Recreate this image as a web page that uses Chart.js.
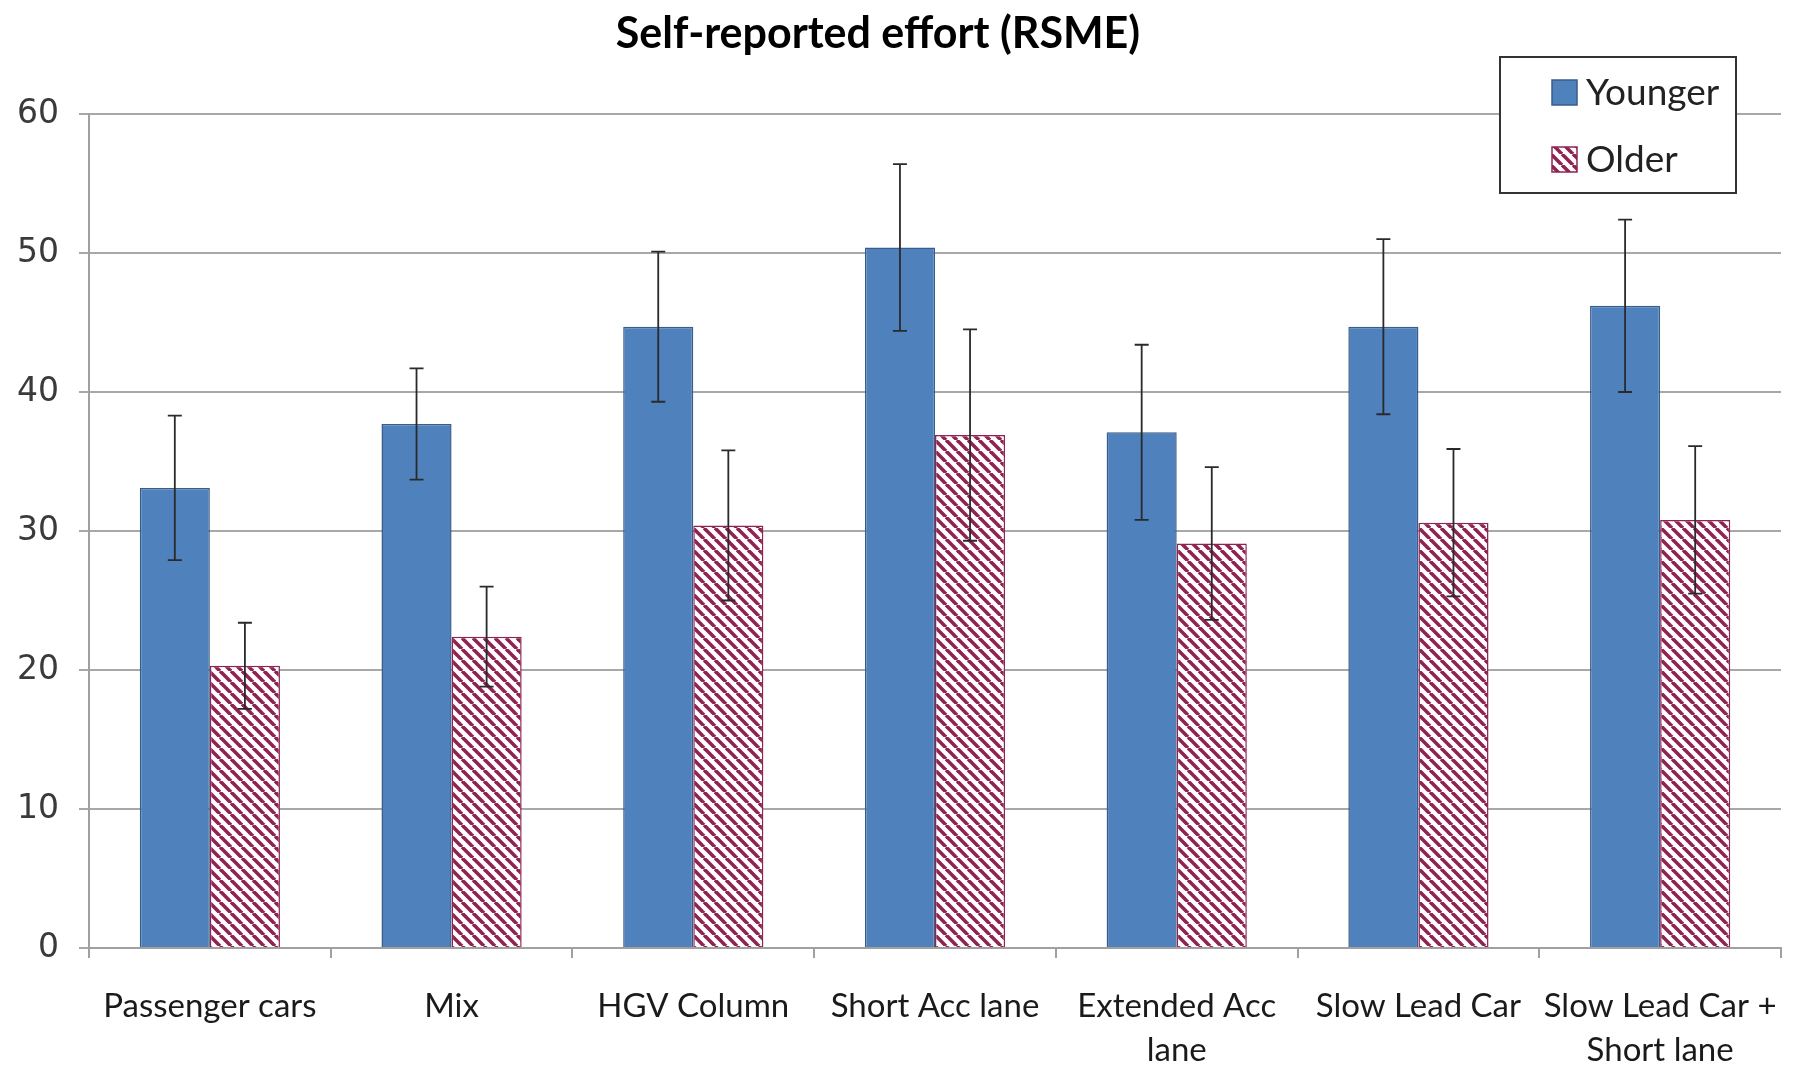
<!DOCTYPE html>
<html>
<head>
<meta charset="utf-8">
<script src="https://cdn.jsdelivr.net/npm/chart.js@4.4.1/dist/chart.umd.min.js"></script>
<style>
  html, body { margin: 0; padding: 0; background: #fff; }
  #wrap { width: 1796px; height: 1071px; }
</style>
</head>
<body>
<div id="wrap"><canvas id="myChart" width="1796" height="1071"></canvas></div>
<script>
// ------------------ DATA ------------------ //
const categories = [
  "Passenger cars", "Mix", "HGV Column", "Short Acc lane",
  ["Extended Acc", "lane"], "Slow Lead Car", ["Slow Lead Car +", "Short lane"]
];
const seriesNames = ["Younger", "Older"];
const youngerValues = [33.1, 37.7, 44.7, 50.4, 37.1, 44.7, 46.2];
const youngerErrors = [5.2, 4.0, 5.4, 6.0, 6.3, 6.3, 6.2];
const olderValues = [20.3, 22.4, 30.4, 36.9, 29.1, 30.6, 30.8];
const olderErrors = [3.1, 3.6, 5.4, 7.6, 5.5, 5.3, 5.3];
const yTicks = [0, 10, 20, 30, 40, 50, 60];
const chartTitle = "Self-reported effort (RSME)";

// ------------------ STYLES ------------------ //
const blue = "#4f81bd";
const blueBorder = "#385d8a";
const maroon = "#8e2452";

// diagonal hatch for the "Older" bars
function makeHatch() {
  const s = 11;
  const c = document.createElement("canvas");
  c.width = s; c.height = s;
  const g = c.getContext("2d");
  g.fillStyle = "#fff";
  g.fillRect(0, 0, s, s);
  g.strokeStyle = maroon;
  g.lineWidth = 3.6;
  [-s, 0, s].forEach(o => {
    g.beginPath();
    g.moveTo(o, 0);
    g.lineTo(o + s, s);
    g.stroke();
  });
  return document.getElementById("myChart").getContext("2d").createPattern(c, "repeat");
}
const hatch = makeHatch();

// error bars on top of each bar
const errorBars = {
  id: "errorBars",
  afterDatasetsDraw(chart) {
    const ctx = chart.ctx;
    const y = chart.scales.y;
    const errs = [youngerErrors, olderErrors];
    ctx.save();
    ctx.strokeStyle = "#2a2a2a";
    ctx.lineWidth = 1.8;
    chart.data.datasets.forEach((ds, di) => {
      chart.getDatasetMeta(di).data.forEach((bar, i) => {
        const v = ds.data[i];
        const top = y.getPixelForValue(v + errs[di][i]);
        const bot = y.getPixelForValue(v - errs[di][i]);
        ctx.beginPath();
        ctx.moveTo(bar.x, top); ctx.lineTo(bar.x, bot);
        ctx.moveTo(bar.x - 7, top); ctx.lineTo(bar.x + 7, top);
        ctx.moveTo(bar.x - 7, bot); ctx.lineTo(bar.x + 7, bot);
        ctx.stroke();
      });
    });
    ctx.restore();
  }
};

// title and boxed legend, placed like the original
const decorations = {
  id: "decorations",
  afterDraw(chart) {
    const ctx = chart.ctx;
    ctx.save();
    ctx.fillStyle = "#000";
    ctx.font = "bold 43px Lato";
    ctx.textAlign = "center";
    ctx.textBaseline = "middle";
    ctx.fillText(chartTitle, 878, 34);

    // legend box
    ctx.fillStyle = "#fff";
    ctx.fillRect(1500, 57, 236, 136);
    ctx.strokeStyle = "#333";
    ctx.lineWidth = 2;
    ctx.strokeRect(1500, 57, 236, 136);

    const rows = [{ y: 92, fill: blue, border: blueBorder }, { y: 159, fill: hatch, border: maroon }];
    rows.forEach((r, i) => {
      ctx.fillStyle = r.fill;
      ctx.fillRect(1552, r.y - 12, 25, 25);
      ctx.strokeStyle = r.border;
      ctx.lineWidth = 1.5;
      ctx.strokeRect(1552, r.y - 12, 25, 25);
      ctx.fillStyle = "#222";
      ctx.font = "37px Lato";
      ctx.textAlign = "left";
      ctx.fillText(seriesNames[i], 1586, r.y + 1);
    });
    ctx.restore();
  }
};

// ------------------ CHART ------------------ //
const ctx = document.getElementById("myChart").getContext("2d");
const chart = new Chart(ctx, {
  type: "bar",
  data: {
    labels: categories,
    datasets: [
      {
        label: seriesNames[0],
        data: youngerValues,
        backgroundColor: blue,
        borderColor: blueBorder,
        borderWidth: 1.5,
        categoryPercentage: 0.58,
        barPercentage: 1.0
      },
      {
        label: seriesNames[1],
        data: olderValues,
        backgroundColor: hatch,
        borderColor: maroon,
        borderWidth: 1.5,
        categoryPercentage: 0.58,
        barPercentage: 1.0
      }
    ]
  },
  options: {
    responsive: false,
    animation: false,
    layout: { padding: { top: 114, right: 15, left: 0, bottom: 0 } },
    plugins: {
      legend: { display: false },
      title: { display: false },
      tooltip: { enabled: false }
    },
    scales: {
      x: {
        grid: { display: true, drawOnChartArea: false, tickLength: 10, color: "#a0a0a0", lineWidth: 2 },
        border: { color: "#a0a0a0", width: 2 },
        ticks: {
          color: "#1a1a1a",
          font: { family: "Lato", size: 33, lineHeight: 1.32 },
          padding: 27,
          maxRotation: 0,
          autoSkip: false
        },
        afterFit(scale) {
          scale.height = 123;
          scale.paddingLeft = 0;
          scale.paddingRight = 0;
        }
      },
      y: {
        min: 0,
        max: 60,
        afterBuildTicks(scale) { scale.ticks = yTicks.map(v => ({ value: v })); },
        grid: { color: "#a8a8a8", lineWidth: 2, tickLength: 10 },
        border: { color: "#a0a0a0", width: 2 },
        ticks: {
          color: "#3a3a3a",
          font: { family: "DejaVu Sans", size: 33 },
          padding: 20
        },
        afterFit(scale) { scale.width = 89; }
      }
    }
  },
  plugins: [errorBars, decorations]
});
</script>
</body>
</html>
